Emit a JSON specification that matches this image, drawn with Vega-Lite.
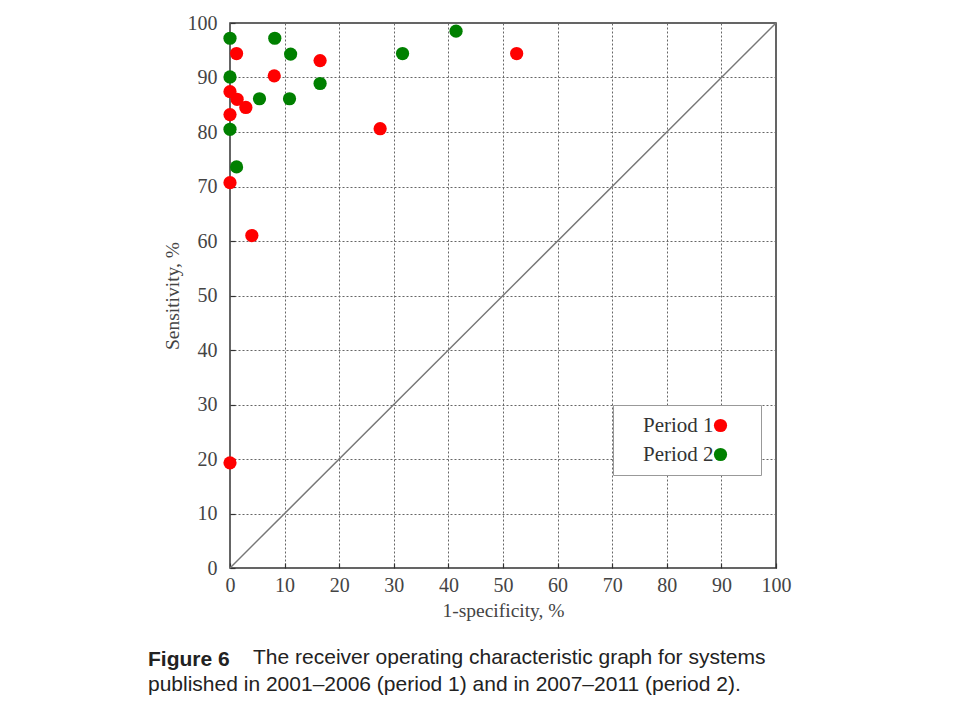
{
  "$schema": "https://vega.github.io/schema/vega-lite/v6.json",
  "autosize": {"type": "none"},
  "width": 546,
  "height": 545,
  "padding": {"left": 230, "top": 23, "right": 180, "bottom": 155},
  "background": "white",
  "config": {
    "view": {"stroke": "#333", "strokeWidth": 1.5},
    "axis": {
      "labelFont": "Liberation Serif",
      "labelFontSize": 20,
      "labelColor": "#444",
      "labelFlush": false,
      "labelOverlap": false,
      "titleFont": "Liberation Serif",
      "titleFontSize": 19.5,
      "titleFontWeight": "normal",
      "titleColor": "#444",
      "grid": true,
      "gridColor": "#666",
      "gridDash": [2, 2],
      "gridWidth": 1,
      "domain": false,
      "tickColor": "#333",
      "tickSize": -5,
      "tickWidth": 1.2
    }
  },
  "title": {
    "text": "Figure 6",
    "orient": "bottom",
    "anchor": "start",
    "frame": "group",
    "dx": -82,
    "offset": 29,
    "font": "Liberation Sans",
    "fontSize": 21,
    "fontWeight": "bold",
    "color": "#222",
    "subtitle": [
      "\u200b\u00a0\u00a0\u00a0\u00a0\u00a0\u00a0\u00a0\u00a0\u00a0\u00a0\u00a0\u00a0\u00a0\u00a0\u00a0\u00a0\u00a0\u00a0The receiver operating characteristic graph for systems",
      "published in 2001–2006 (period 1) and in 2007–2011 (period 2)."
    ],
    "subtitleFont": "Liberation Sans",
    "subtitleFontSize": 21,
    "subtitleFontWeight": "normal",
    "subtitleColor": "#222",
    "subtitleLineHeight": 27,
    "subtitlePadding": -23
  },
  "datasets": {
    "diag": [{"fpr": 0, "sens": 0}, {"fpr": 100, "sens": 100}],
    "pts": [
      {"period": "Period 2", "fpr": 0, "sens": 97.2},
      {"period": "Period 2", "fpr": 8.2, "sens": 97.2},
      {"period": "Period 2", "fpr": 11.1, "sens": 94.3},
      {"period": "Period 2", "fpr": 0, "sens": 90.1},
      {"period": "Period 2", "fpr": 16.5, "sens": 88.9},
      {"period": "Period 2", "fpr": 5.4, "sens": 86.1},
      {"period": "Period 2", "fpr": 10.9, "sens": 86.1},
      {"period": "Period 2", "fpr": 0, "sens": 80.5},
      {"period": "Period 2", "fpr": 1.2, "sens": 73.6},
      {"period": "Period 2", "fpr": 31.6, "sens": 94.4},
      {"period": "Period 2", "fpr": 41.4, "sens": 98.5},
      {"period": "Period 1", "fpr": 1.2, "sens": 94.4},
      {"period": "Period 1", "fpr": 16.5, "sens": 93.1},
      {"period": "Period 1", "fpr": 8.1, "sens": 90.3},
      {"period": "Period 1", "fpr": 0, "sens": 87.4},
      {"period": "Period 1", "fpr": 1.3, "sens": 86.0},
      {"period": "Period 1", "fpr": 2.9, "sens": 84.5},
      {"period": "Period 1", "fpr": 0, "sens": 83.2},
      {"period": "Period 1", "fpr": 27.5, "sens": 80.6},
      {"period": "Period 1", "fpr": 0, "sens": 70.7},
      {"period": "Period 1", "fpr": 52.5, "sens": 94.4},
      {"period": "Period 1", "fpr": 4.0, "sens": 61.0},
      {"period": "Period 1", "fpr": 0, "sens": 19.3}
    ]
  },
  "layer": [
    {
      "data": {"name": "diag"},
      "mark": {"type": "line", "color": "#777", "strokeWidth": 1.5},
      "encoding": {
        "x": {"field": "fpr", "type": "quantitative", "scale": {"domain": [0, 100], "nice": false},
          "axis": {"values": [0,10,20,30,40,50,60,70,80,90,100], "title": "1-specificity, %", "labelPadding": 12, "titlePadding": 6}},
        "y": {"field": "sens", "type": "quantitative", "scale": {"domain": [0, 100], "nice": false},
          "axis": {"values": [0,10,20,30,40,50,60,70,80,90,100], "title": "Sensitivity, %", "labelPadding": 18, "titlePadding": 5}}
      }
    },
    {
      "data": {"name": "pts"},
      "mark": {"type": "circle", "size": 175, "opacity": 1, "clip": false},
      "encoding": {
        "x": {"field": "fpr", "type": "quantitative"},
        "y": {"field": "sens", "type": "quantitative"},
        "color": {
          "field": "period", "type": "nominal",
          "scale": {"domain": ["Period 1", "Period 2"], "range": ["#ff0000", "#008000"]},
          "legend": {
            "title": null,
            "orient": "none",
            "legendX": 383,
            "legendY": 382,
            "padding": 10,
            "strokeColor": "#999",
            "fillColor": "white",
            "labelFont": "Liberation Serif",
            "labelFontSize": 21,
            "labelColor": "#333",
            "labelOffset": -88,
            "symbolOffset": 87,
            "symbolSize": 175,
            "symbolType": "circle",
            "rowPadding": 7,
            "zindex": 0,
            "labelExpr": "datum.label + '\u00a0\u00a0\u00a0\u00a0\u00a0\u00a0\u00a0\u200b'"
          }
        }
      }
    }
  ]
}
